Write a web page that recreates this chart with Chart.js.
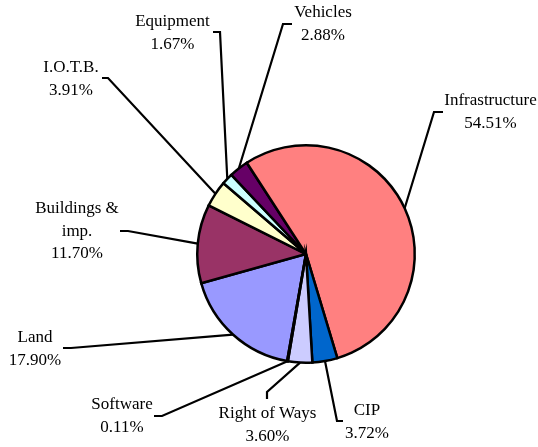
<!DOCTYPE html>
<html>
<head>
<meta charset="utf-8">
<script src="https://cdn.jsdelivr.net/npm/chart.js@4/dist/chart.umd.min.js"></script>
<style>
    body { margin: 0; background: #fff; }
    #wrap { width: 538px; height: 447px; }
</style>
</head>
<body>
<div id="wrap"><canvas id="pie" width="538" height="447"></canvas></div>
<script>
// data, in the order the slices run clockwise
const categories = ["Land", "Buildings &\nimp.", "I.O.T.B.", "Equipment", "Vehicles", "Infrastructure", "CIP", "Right of Ways", "Software"];
const shares = [17.90, 11.70, 3.91, 1.67, 2.88, 54.51, 3.72, 3.60, 0.11];
const sliceColors = ["#9999FF", "#993366", "#FFFFCC", "#CCFFFF", "#660066", "#FF8080", "#0066CC", "#CCCCFF", "#000080"];

// where each label sits: text centre x, first baseline y, then label end of leader and elbow
const labelLayout = [
    { x: 35, y: 342, lead: [63, 348, 71, 348] },
    { x: 77, y: 213, lead: [120, 231, 128, 231] },
    { x: 71, y: 72, lead: [102, 78, 108, 78] },
    { x: 172.5, y: 26, lead: [213, 32, 220, 32] },
    { x: 323, y: 17, lead: [292, 24, 283, 24] },
    { x: 490.5, y: 105, lead: [443, 112, 434, 112] },
    { x: 367, y: 415, lead: [343, 421, 337, 421] },
    { x: 267.5, y: 418, lead: [267, 399, 267, 392] },
    { x: 122, y: 409, lead: [154, 416, 162, 416] }
];

const lineHeight = 22.5;

const leaderLabels = {
    id: "leaderLabels",
    afterDraw(chart) {
        const ctx = chart.ctx;
        const arcs = chart.getDatasetMeta(0).data;
        ctx.save();
        ctx.strokeStyle = "#000";
        ctx.lineWidth = 2.2;
        ctx.lineJoin = "miter";
        arcs.forEach((arc, i) => {
            const p = arc.getProps(["x", "y", "startAngle", "endAngle", "outerRadius"], true);
            const mid = (p.startAngle + p.endAngle) / 2;
            const ax = p.x + Math.cos(mid) * p.outerRadius;
            const ay = p.y + Math.sin(mid) * p.outerRadius;
            const l = labelLayout[i].lead;
            ctx.beginPath();
            ctx.moveTo(l[0], l[1]);
            ctx.lineTo(l[2], l[3]);
            ctx.lineTo(ax, ay);
            ctx.stroke();
        });

        ctx.fillStyle = "#000";
        ctx.font = "17px 'Liberation Serif', 'Times New Roman', serif";
        ctx.textAlign = "center";
        ctx.textBaseline = "alphabetic";
        categories.forEach((name, i) => {
            const lines = name.split("\n");
            lines.push(shares[i].toFixed(2) + "%");
            lines.forEach((t, k) => {
                ctx.fillText(t, labelLayout[i].x, labelLayout[i].y + k * lineHeight);
            });
        });
        ctx.restore();
    }
};

new Chart(document.getElementById("pie"), {
    type: "pie",
    data: {
        labels: categories,
        datasets: [{
            data: shares,
            backgroundColor: sliceColors,
            borderColor: "#000",
            borderWidth: 2.5,
            hoverBorderWidth: 2.5,
            hoverOffset: 0,
            borderJoinStyle: "miter"
        }]
    },
    options: {
        responsive: false,
        animation: false,
        rotation: -170,
        layout: { padding: { left: 196, top: 144, right: 122, bottom: 83 } },
        plugins: {
            legend: { display: false },
            tooltip: { enabled: false },
            title: { display: false }
        }
    },
    plugins: [leaderLabels]
});
</script>
</body>
</html>
